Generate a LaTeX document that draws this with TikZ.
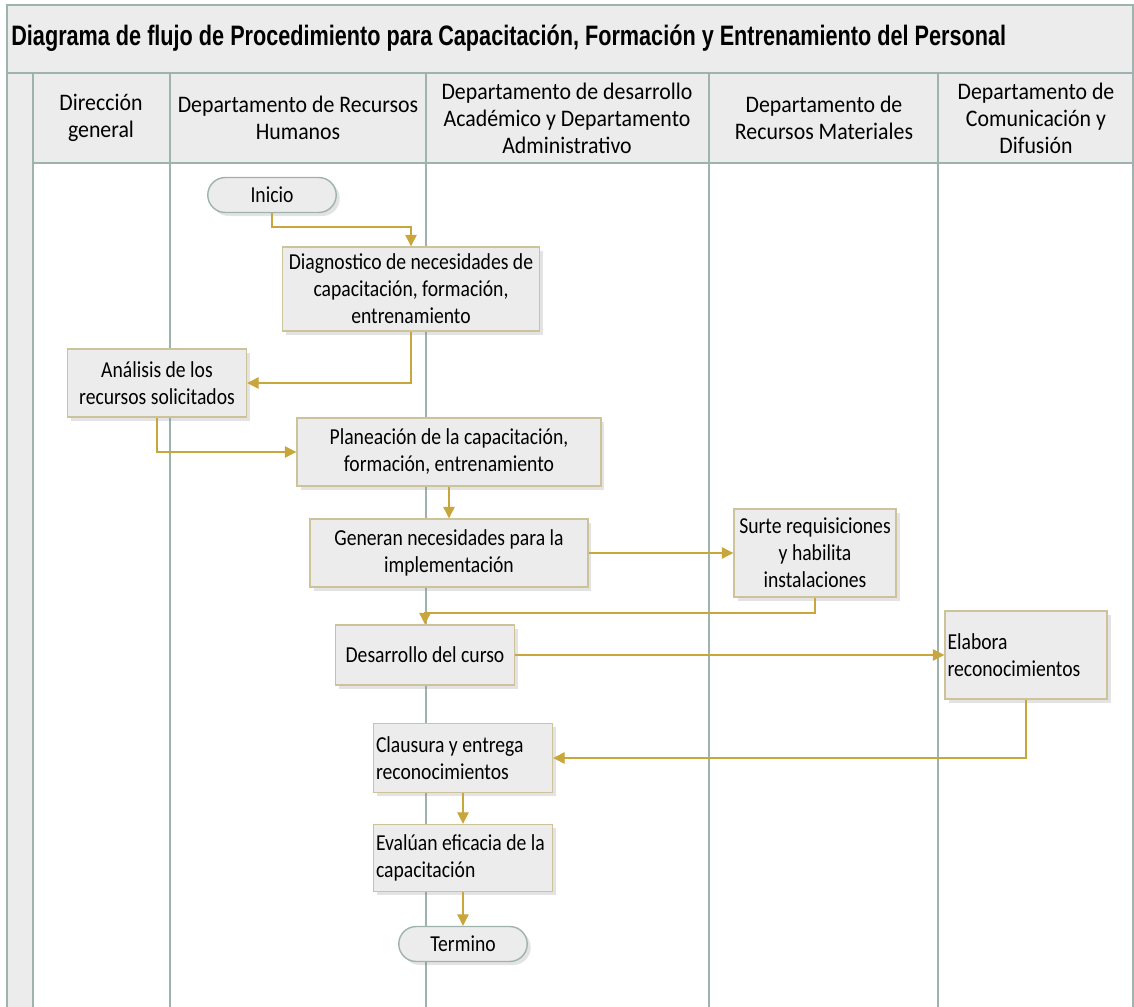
\documentclass[tikz,border=0pt]{standalone}
\usepackage{fontspec}
\setmainfont{Carlito}[FakeStretch=0.86]
\newfontfamily\hdrfont{Carlito}[FakeStretch=0.92]
\newfontfamily\titlefont{Liberation Sans}[FakeStretch=0.77]
\usetikzlibrary{arrows.meta,shadows,shapes.misc}
\definecolor{laneline}{HTML}{9FB3AE}
\definecolor{boxline}{HTML}{CDC39B}
\definecolor{boxfill}{HTML}{ECECEC}
\definecolor{flowgold}{HTML}{C8A63C}

\begin{document}
\begin{tikzpicture}[x=0.02cm,y=-0.02cm,
    every node/.style={font=\fontsize{13}{15.4}\selectfont},
    lane/.style={draw=laneline,line width=1.1pt},
    hdr/.style={align=center,inner sep=0pt,font=\hdrfont\fontsize{13.5}{15.4}\selectfont},
    proc/.style={draw=boxline,fill=boxfill,line width=0.8pt,align=center,
      inner xsep=0.1cm,drop shadow={opacity=0.22,shadow xshift=2pt,shadow yshift=-2pt}},
    leftproc/.style={proc,align=flush left,inner xsep=0.05cm},
    term/.style={rounded rectangle,draw=laneline,fill=boxfill,line width=0.8pt,
      minimum width=2.57cm,minimum height=0.7cm,inner sep=0pt,
      drop shadow={opacity=0.22,shadow xshift=2pt,shadow yshift=-2pt}},
    flow/.style={draw=flowgold,line width=0.6pt,-{Triangle[length=6.5pt,width=6.5pt]}}]
  \useasboundingbox (0,0) rectangle (1134,1007);

  % pool frame
  \fill[boxfill] (7,5) rectangle (1134,163);
  \fill[boxfill] (7,163) rectangle (33,1007);
  \draw[lane] (7,1007) -- (7,5) -- (1134,5);
  \draw[lane] (7,73) -- (1134,73);
  \draw[lane] (33,163) -- (1134,163);
  \foreach \x in {33,170,426,709,938} \draw[lane] (\x,73) -- (\x,1007);
  \draw[lane] (1133,5) -- (1133,1007);

  \node[anchor=west,inner sep=0pt,font=\titlefont\bfseries\fontsize{16}{19}\selectfont] (title) at (11,38)
    {Diagrama de flujo de Procedimiento para Capacitación, Formación y Entrenamiento del Personal};

  % lane headers
  \node[hdr] (h1) at (101,118) {Dirección\\general};
  \node[hdr] (h2) at (298,118) {Departamento de Recursos\\Humanos};
  \node[hdr] (h3) at (567,118) {Departamento de desarrollo\\Académico y Departamento\\Administrativo};
  \node[hdr] (h4) at (824,118) {Departamento de\\Recursos Materiales};
  \node[hdr] (h5) at (1036,118) {Departamento de\\Comunicación y\\Difusión};

  % steps
  \node[term] (inicio) at (272,195) {Inicio};
  \node[proc,minimum width=5.14cm,minimum height=1.68cm] (diag) at (411,289)
    {Diagnostico de necesidades de\\capacitación, formación,\\entrenamiento};
  \node[proc,minimum width=3.58cm,minimum height=1.36cm] (anal) at (157,383)
    {Análisis de los\\recursos solicitados};
  \node[proc,minimum width=6.08cm,minimum height=1.36cm] (plan) at (449,452)
    {Planeación de la capacitación,\\formación, entrenamiento};
  \node[proc,minimum width=5.56cm,minimum height=1.36cm] (gen) at (449,553)
    {Generan necesidades para la\\implementación};
  \node[proc,minimum width=3.24cm,minimum height=1.76cm] (surte) at (815,553)
    {Surte requisiciones\\y habilita\\instalaciones};
  \node[proc,minimum width=3.58cm,minimum height=1.2cm] (desa) at (425,655)
    {Desarrollo del curso};
  \node[leftproc,text width=3.14cm,minimum height=1.76cm] (elab) at (1026,655)
    {Elabora\\reconocimientos};
  \node[leftproc,text width=3.48cm,minimum height=1.38cm] (clau) at (463,758)
    {Clausura y entrega\\reconocimientos};
  \node[leftproc,text width=3.48cm,minimum height=1.34cm] (eval) at (463,858)
    {Evalúan eficacia de la\\capacitación};
  \node[term] (fin) at (463,944) {Termino};

  % connectors
  \coordinate (k1) at (411,227);
  \coordinate (k2) at (425,613);
  \draw[flow] (inicio.south) |- (k1) -- (diag.north);
  \draw[flow] (diag.south) |- (anal.east);
  \draw[flow] (anal.south) |- (plan.west);
  \draw[flow] (plan.south) -- (gen.north);
  \draw[flow] (gen.east) -- (surte.west);
  \draw[flow] (surte.south) |- (k2) -- (desa.north);
  \draw[flow] (desa.east) -- (elab.west);
  \draw[flow] (elab.south) |- (clau.east);
  \draw[flow] (clau.south) -- (eval.north);
  \draw[flow] (eval.south) -- (fin.north);
\end{tikzpicture}
\end{document}
